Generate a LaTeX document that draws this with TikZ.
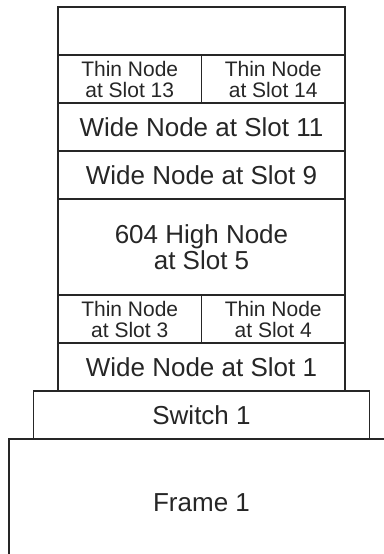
\documentclass[tikz,border=0pt]{standalone}
\usepackage{fontspec}
\setmainfont{Liberation Sans}
\usetikzlibrary{
	positioning
}
\tikzset{
	node distance=0pt,
	slot/.style={
		draw=black!85,line width=.6pt,inner sep=0pt,outer sep=0pt,
		minimum height=24pt,align=center,text=black!85
	},
	wide/.style={
		slot,minimum width=143.5pt,font=\fontsize{13}{13}\selectfont
	},
	thin/.style={
		slot,minimum width=71.75pt,font=\fontsize{10.5}{10.5}\selectfont
	},
	high/.style={wide,minimum height=48pt},
	switch/.style={wide,minimum width=168pt},
	frame/.style={wide,minimum width=192.4pt,minimum height=64pt}
}

\begin{document}
\begin{tikzpicture}
		\useasboundingbox (0,0) rectangle (192pt,277pt);
		\draw
			node[wide,anchor=north west]                        (top) at (29pt,273.5pt) {}
			node[thin,below right=0pt and 0pt of top.south west] (13)  {Thin Node\\at Slot 13}
			node[thin,right=of 13]                               (14)  {Thin Node\\at Slot 14}
			node[wide,below right=0pt and 0pt of 13.south west]  (11)  {Wide Node at Slot 11}
			node[wide,below=of 11]                               (9)   {Wide Node at Slot 9}
			node[high,below=of 9]                                (5)   {604 High Node\\at Slot 5}
			node[thin,below right=0pt and 0pt of 5.south west]   (3)   {Thin Node\\at Slot 3}
			node[thin,right=of 3]                                (4)   {Thin Node\\at Slot 4}
			node[wide,below right=0pt and 0pt of 3.south west]   (1)   {Wide Node at Slot 1}
			node[switch,below=of 1]                              (sw)  {Switch 1}
			node[frame,below=of sw]                              (fr)  {Frame 1}
		;
	\end{tikzpicture}
\end{document}
